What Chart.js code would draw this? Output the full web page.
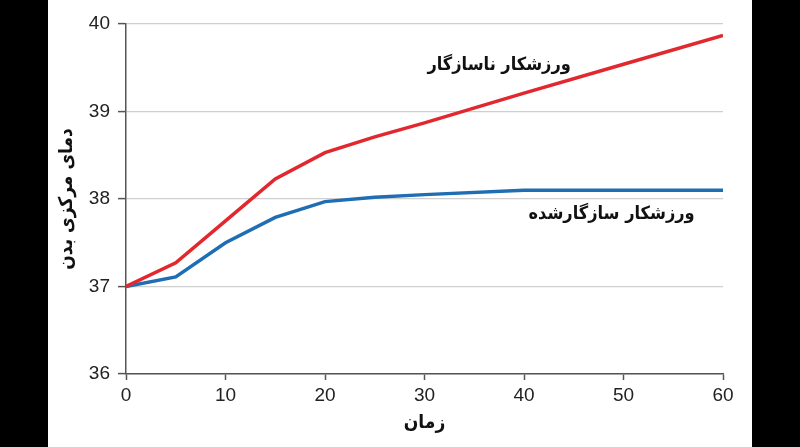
<!DOCTYPE html>
<html>
<head>
<meta charset="utf-8">
<script src="https://cdn.jsdelivr.net/npm/chart.js@4/dist/chart.umd.min.js"></script>
<style>
html,body{margin:0;padding:0;background:#000;width:800px;height:447px;overflow:hidden;}
#wrap{position:absolute;left:48px;top:0;width:704px;height:447px;background:#fff;}
</style>
</head>
<body>
<div id="wrap"><canvas id="c" width="704" height="447"></canvas></div>
<script>
const times = [0, 5, 10, 15, 20, 25, 30, 40, 50, 60];
const unadapted = [37.0, 37.27, 37.75, 38.23, 38.53, 38.71, 38.87, 39.21, 39.54, 39.87];
const adapted = [37.0, 37.11, 37.5, 37.79, 37.97, 38.02, 38.05, 38.1, 38.1, 38.1];
const seriesNames = ['ورزشکار ناسازگار', 'ورزشکار سازگارشده'];
const xTitle = 'زمان';
const yTitle = 'دمای مرکزی بدن';

const faFont = '"DejaVu Sans Condensed", "DejaVu Sans"';
const toPts = (vals) => times.map((t, i) => ({x: t, y: vals[i]}));

const lineLabels = {
  id: 'lineLabels',
  afterDatasetsDraw(chart) {
    const {ctx, scales: {x, y}} = chart;
    const anchors = [[37.5, 39.53], [48.8, 37.82]];
    ctx.save();
    ctx.font = 'bold 18px ' + faFont;
    ctx.fillStyle = '#111';
    ctx.textAlign = 'center';
    ctx.textBaseline = 'middle';
    ctx.direction = 'rtl';
    chart.data.datasets.forEach((ds, i) => {
      ctx.fillText(ds.label, x.getPixelForValue(anchors[i][0]), y.getPixelForValue(anchors[i][1]));
    });
    ctx.restore();
  }
};

new Chart(document.getElementById('c'), {
  type: 'line',
  data: {
    datasets: [
      {label: seriesNames[0], data: toPts(unadapted), borderColor: '#e1282e', borderWidth: 3.5, pointRadius: 0, tension: 0, fill: false},
      {label: seriesNames[1], data: toPts(adapted), borderColor: '#1f6db2', borderWidth: 3.5, pointRadius: 0, tension: 0, fill: false}
    ]
  },
  options: {
    responsive: false,
    animation: false,
    layout: {padding: {top: 24, right: 29, bottom: 0, left: 0}},
    plugins: {legend: {display: false}, tooltip: {enabled: false}},
    scales: {
      x: {
        type: 'linear', min: 0, max: 60,
        afterFit: (s) => { s.height = 73; },
        ticks: {stepSize: 10, color: '#222', padding: 4, font: {family: '"Liberation Sans", Arial', size: 19}},
        grid: {drawOnChartArea: false, drawTicks: true, tickLength: 6, tickColor: '#555', tickWidth: 1.5},
        border: {color: '#555', width: 1.5},
        title: {display: true, text: xTitle, color: '#111', font: {family: faFont, size: 19, weight: 'bold'}, padding: {top: 0, bottom: 13}}
      },
      y: {
        min: 36, max: 40,
        afterFit: (s) => { s.width = 78; },
        ticks: {stepSize: 1, color: '#222', padding: 8, font: {family: '"Liberation Sans", Arial', size: 19}},
        grid: {color: '#cfcfcf', lineWidth: 1.2, drawTicks: true, tickLength: 8, tickColor: '#555', tickWidth: 1.5},
        border: {color: '#555', width: 1.5},
        title: {display: true, text: yTitle, color: '#111', font: {family: faFont, size: 19, weight: 'bold'}, padding: {top: 8, bottom: 0}}
      }
    }
  },
  plugins: [lineLabels]
});
</script>
</body>
</html>
